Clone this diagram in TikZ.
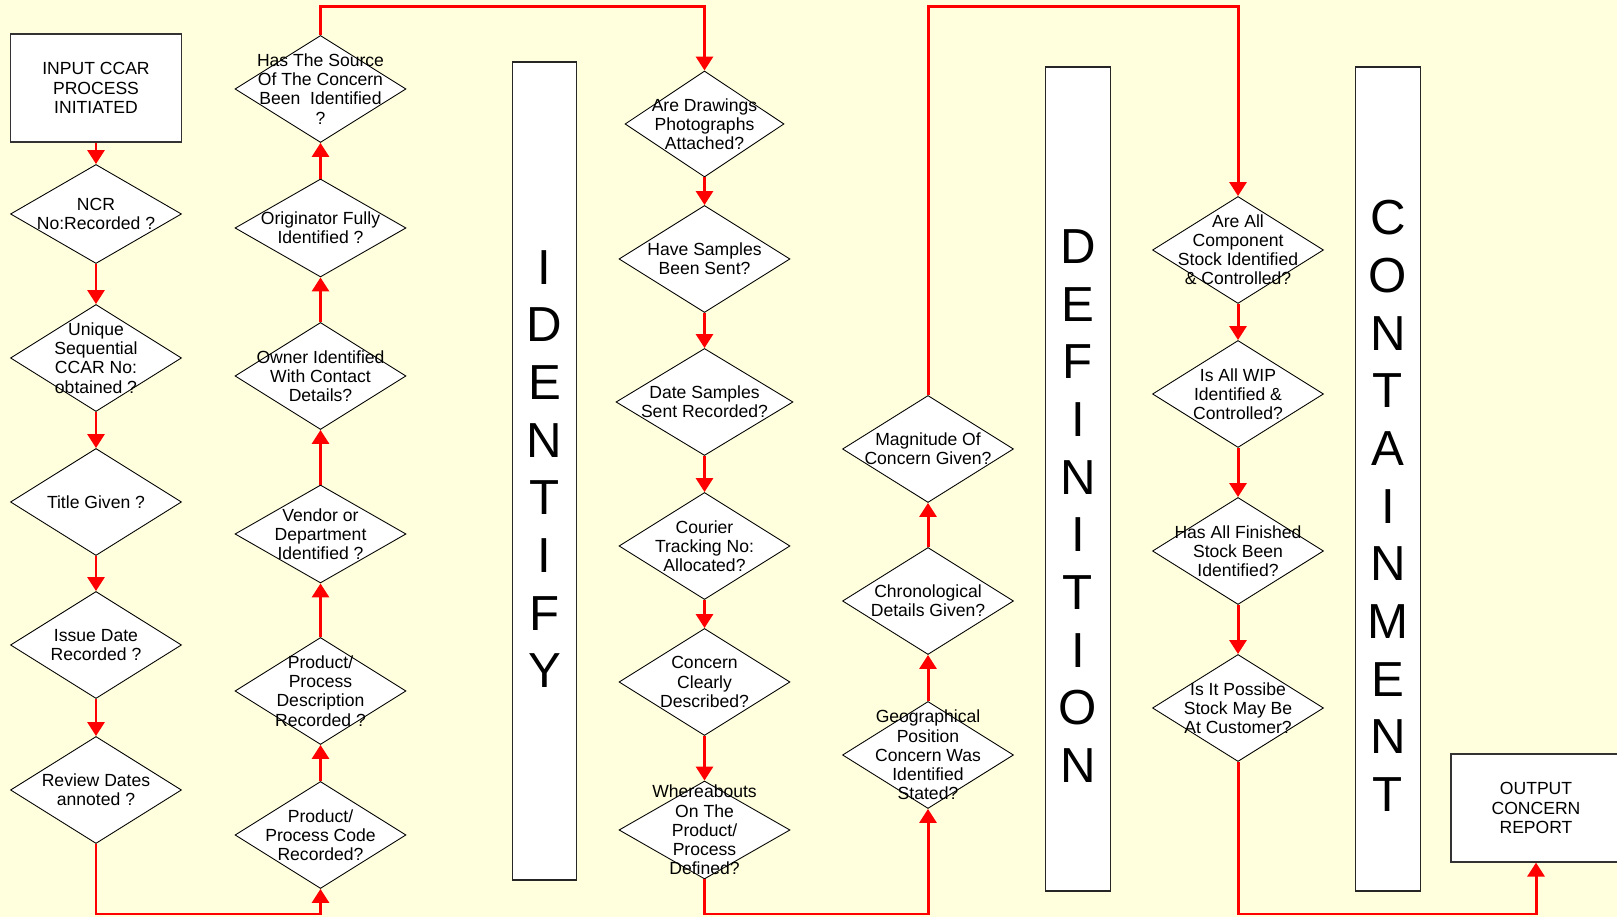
\documentclass[tikz,border=0pt]{standalone}
\usepackage{fontspec}
\setmainfont{Liberation Sans}
\usetikzlibrary{shapes.geometric,arrows.meta}
\definecolor{paper}{RGB}{255,255,222}

\begin{document}
\begin{tikzpicture}[
  ask/.style={diamond, draw=black, fill=white, line width=0.5pt, minimum width=3.42cm, minimum height=2.14cm, inner sep=0pt},
  asktxt/.style={align=center, font=\fontsize{10}{10.9}\selectfont, inner sep=0pt},
  io/.style={draw=black!80, fill=white, line width=0.7pt, minimum width=3.42cm, minimum height=2.16cm, align=center, font=\fontsize{10}{10.9}\selectfont},
  band/.style={draw=black!85, fill=white, line width=0.8pt, minimum width=1.29cm, minimum height=16.48cm, inner sep=0pt},
  bigword/.style={align=center, font=\fontsize{28}{32.8}\selectfont, inner sep=0pt},
  redline/.style={draw=red, line width=1.7pt, -{Triangle[width=0.34cm,length=0.28cm]}}
]

\useasboundingbox (0,0) rectangle (32.34,18.34);
\fill[paper] (0,0) rectangle (32.34,18.34);

\coordinate (upper) at (0,18.20);
\coordinate (lower) at (0,0.06);

\node[io] (input) at (1.92,16.58) {INPUT CCAR\\PROCESS\\INITIATED};
\node[ask, minimum height=1.98cm, label={[asktxt]center:NCR\\No{:}Recorded ?}] (ncr) at (1.92,14.06) {};
\node[ask, label={[asktxt]center:Unique\\Sequential\\CCAR No{:}\\obtained ?}] (ccarno) at (1.92,11.18) {};
\node[ask, label={[asktxt]center:Title Given ?}] (title) at (1.92,8.30) {};
\node[ask, label={[asktxt]center:Issue Date\\Recorded ?}] (issue) at (1.92,5.44) {};
\node[ask, label={[asktxt]center:Review Dates\\annoted ?}] (review) at (1.92,2.54) {};

\node[ask, label={[asktxt]center:Product/\\Process Code\\Recorded?}] (code) at (6.41,1.64) {};
\node[ask, label={[asktxt]center:Product/\\Process\\Description\\Recorded ?}] (desc) at (6.41,4.52) {};
\node[ask, minimum height=1.96cm, label={[asktxt]center:Vendor or\\Department\\Identified ?}] (vendor) at (6.41,7.66) {};
\node[ask, label={[asktxt]center:Owner Identified\\With Contact\\Details?}] (owner) at (6.41,10.82) {};
\node[ask, minimum height=1.96cm, label={[asktxt]center:Originator Fully\\Identified ?}] (orig) at (6.41,13.78) {};
\node[ask, label={[asktxt]center:Has The Source\\Of The Concern\\Been\ \ Identified\\?}] (src) at (6.41,16.56) {};

\node[band, minimum height=16.36cm] (idbox) at (10.89,8.92) {};
\node[bigword] (idword) at (10.89,8.96) {I\\D\\E\\N\\T\\I\\F\\Y};

\node[ask, minimum width=3.18cm, minimum height=2.12cm, label={[asktxt]center:Are Drawings\\Photographs\\Attached?}] (draw) at (14.09,15.86) {};
\node[ask, label={[asktxt]center:Have Samples\\Been Sent?}] (have) at (14.09,13.16) {};
\node[ask, minimum width=3.54cm, label={[asktxt]center:Date Samples\\Sent Recorded?}] (datesent) at (14.09,10.30) {};
\node[ask, label={[asktxt]center:Courier\\Tracking No{:}\\Allocated?}] (courier) at (14.09,7.42) {};
\node[ask, label={[asktxt]center:Concern\\Clearly\\Described?}] (clearly) at (14.09,4.70) {};
\node[ask, minimum height=1.96cm, label={[asktxt]center:Whereabouts\\On The\\Product/\\Process\\Defined?}] (where) at (14.09,1.74) {};

\node[ask, label={[asktxt]center:Geographical\\Position\\Concern Was\\Identified\\Stated?}] (geo) at (18.56,3.24) {};
\node[ask, label={[asktxt]center:Chronological\\Details Given?}] (chrono) at (18.56,6.32) {};
\node[ask, label={[asktxt]center:Magnitude Of\\Concern Given?}] (mag) at (18.56,9.36) {};

\node[band] (defbox) at (21.56,8.76) {};
\node[bigword] (defword) at (21.56,8.22) {D\\E\\F\\I\\N\\I\\T\\I\\O\\N};

\node[ask, label={[asktxt]center:Are All\\Component\\Stock Identified\\\& Controlled?}] (comp) at (24.76,13.34) {};
\node[ask, label={[asktxt]center:Is All WIP\\Identified \&\\Controlled?}] (wip) at (24.76,10.46) {};
\node[ask, label={[asktxt]center:Has All Finished\\Stock Been\\Identified?}] (fin) at (24.76,7.32) {};
\node[ask, label={[asktxt]center:Is It Possibe\\Stock May Be\\At Customer?}] (poss) at (24.76,4.18) {};

\node[band] (conbox) at (27.76,8.76) {};
\node[bigword] (conword) at (27.76,8.22) {C\\O\\N\\T\\A\\I\\N\\M\\E\\N\\T};

\node[io, minimum width=3.40cm] (output) at (30.72,2.18) {OUTPUT\\CONCERN\\REPORT};

\draw[redline] (input) -- (ncr);
\draw[redline] (ncr) -- (ccarno);
\draw[redline] (ccarno) -- (title);
\draw[redline] (title) -- (issue);
\draw[redline] (issue) -- (review);
\draw[redline] (review) -- (review |- lower) -| (code);

\draw[redline] (code) -- (desc);
\draw[redline] (desc) -- (vendor);
\draw[redline] (vendor) -- (owner);
\draw[redline] (owner) -- (orig);
\draw[redline] (orig) -- (src);
\draw[redline] (src) -- (src |- upper) -| (draw);

\draw[redline] (draw) -- (have);
\draw[redline] (have) -- (datesent);
\draw[redline] (datesent) -- (courier);
\draw[redline] (courier) -- (clearly);
\draw[redline] (clearly) -- (where);
\draw[redline] (where) -- (where |- lower) -| (geo);

\draw[redline] (geo) -- (chrono);
\draw[redline] (chrono) -- (mag);
\draw[redline] (mag) -- (mag |- upper) -| (comp);

\draw[redline] (comp) -- (wip);
\draw[redline] (wip) -- (fin);
\draw[redline] (fin) -- (poss);
\draw[redline] (poss) -- (poss |- lower) -| (output);

\end{tikzpicture}
\end{document}
